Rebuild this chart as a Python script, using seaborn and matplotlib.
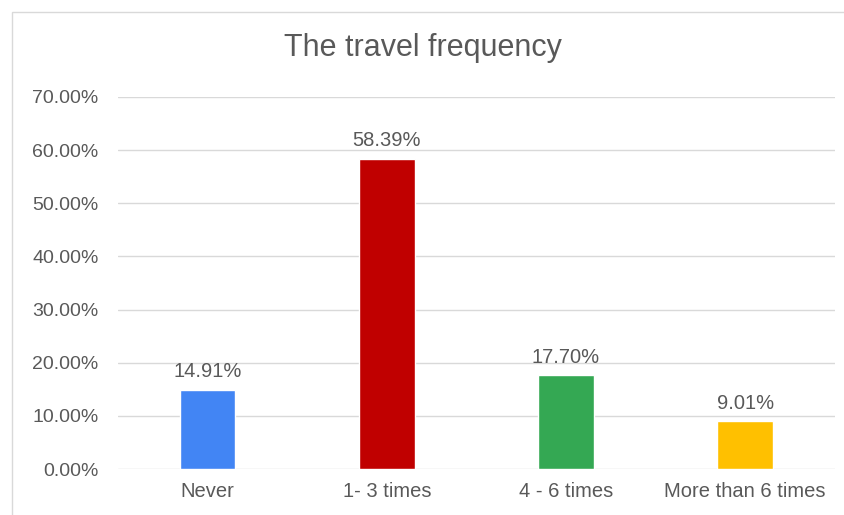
import seaborn as sns
import matplotlib.pyplot as plt
import pandas as pd
from matplotlib.patches import Rectangle
from matplotlib.ticker import FuncFormatter

categories = ["Never", "1- 3 times", "4 - 6 times", "More than 6 times"]
shares = [14.91, 58.39, 17.70, 9.01]
bar_colors = ["#4285F4", "#C00000", "#34A853", "#FFC000"]

df = pd.DataFrame({"freq": categories, "share": shares})

sns.set_theme(style="white")
plt.rcParams["font.family"] = ["Liberation Sans", "DejaVu Sans"]
text_col = "#595959"

fig = plt.figure(figsize=(8.45, 5.15), dpi=100)
ax = fig.add_axes([0.1396, 0.0893, 0.8484, 0.7224])

sns.barplot(data=df, x="freq", y="share", hue="freq", palette=bar_colors,
            order=categories, hue_order=categories, width=0.31,
            saturation=1, legend=False, ax=ax, zorder=3)

for c in ax.containers:
    ax.bar_label(c, fmt="%.2f%%", padding=6, fontsize=14.5, color=text_col)

ax.set_ylim(0, 70)
ax.set_yticks(range(0, 71, 10))
ax.yaxis.set_major_formatter(FuncFormatter(lambda v, p: f"{v:.2f}%"))
ax.grid(axis="y", color="#d9d9d9", linewidth=1, zorder=0)
for s in ax.spines.values():
    s.set_visible(False)
ax.tick_params(axis="x", length=0, labelsize=14.5, colors=text_col, pad=9)
ax.tick_params(axis="y", length=0, labelsize=14, colors=text_col, pad=14)
ax.set_xlabel("")
ax.set_ylabel("")

fig.text(0.5, 1 - 56 / 515, "The travel frequency", ha="center",
         va="baseline", fontsize=22, color=text_col)

# chart frame
fig.patches.append(Rectangle((12 / 845, -0.1), 1.2, 1 - 12 / 515 + 0.1,
                             transform=fig.transFigure, fill=False,
                             edgecolor="#d9d9d9", linewidth=1))

fig.savefig("out.png", dpi=100)
